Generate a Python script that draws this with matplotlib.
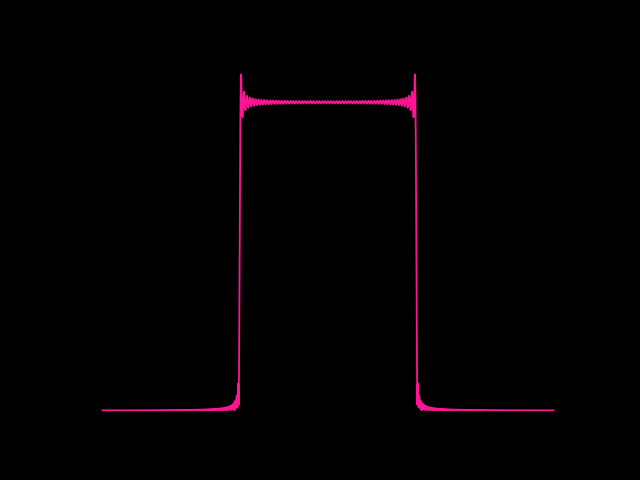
# Fourier partial sum of a rectangular pulse (Gibbs ripples), magnitude shown
import numpy as np
import matplotlib.pyplot as plt

half_period = 1.0      # plot spans one period [-L, L]
pulse_half_width = 0.392
n_terms = 155
n_samples = 2000

x = np.linspace(-half_period, half_period, n_samples)
s = np.full_like(x, pulse_half_width / half_period)
for k in range(1, n_terms + 1):
    w = k * np.pi / half_period
    s += 2 / (k * np.pi) * np.sin(w * pulse_half_width) * np.cos(w * x)

fig = plt.figure(figsize=(6.4, 4.8), dpi=100, facecolor='black')
ax = fig.add_subplot(111)
ax.set_facecolor('black')
ax.plot(x, np.abs(s), color='deeppink', linewidth=1.3)
ax.axis('off')
fig.savefig('out.png', facecolor='black')
